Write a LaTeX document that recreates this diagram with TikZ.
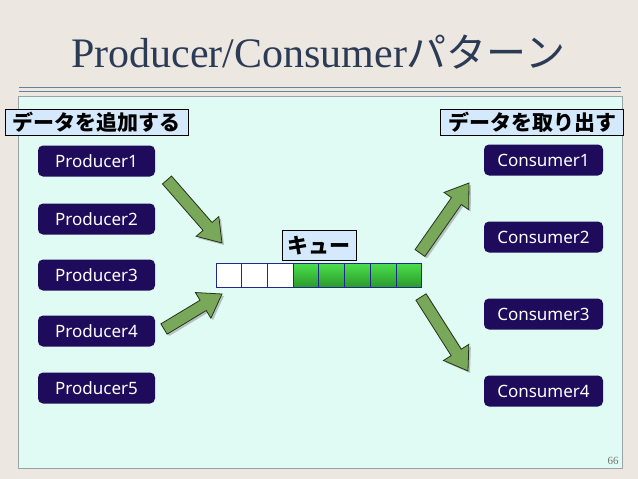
\documentclass[tikz,border=0pt]{standalone}
\usepackage{fontspec}
\setmainfont{Liberation Serif}
\setsansfont{Noto Sans}
\newfontfamily\jpfont{Noto Sans CJK JP}
\usetikzlibrary{calc,shadows}
\definecolor{paper}{HTML}{ECE8E1}
\definecolor{panel}{HTML}{E0FBF3}
\definecolor{panelline}{HTML}{9AA4A4}
\definecolor{rule}{HTML}{6A7F99}
\definecolor{tagfill}{HTML}{D4EAFC}
\definecolor{worker}{HTML}{1F0B5C}
\definecolor{arrowgreen}{HTML}{7AA85A}
\definecolor{arrowline}{HTML}{24331A}
\definecolor{cellline}{HTML}{1C2A8C}
\definecolor{celltop}{HTML}{4CE04C}
\definecolor{cellbottom}{HTML}{2A9A2A}
\definecolor{titleblue}{HTML}{2C3B55}

\tikzset{
  tag/.style={draw=black, fill=tagfill, line width=0.8pt, inner sep=2pt,
    minimum height=26pt, font=\jpfont\bfseries\fontsize{21}{21}\selectfont},
  worker/.style={fill=worker, rounded corners=5pt, text=white, inner sep=0pt,
    minimum width=117pt, minimum height=31pt, font=\sffamily\fontsize{17}{17}\selectfont},
  cell/.style={draw=cellline, line width=0.8pt, minimum width=25.7pt,
    minimum height=24pt, inner sep=0pt, outer sep=0pt},
  qempty/.style={fill=white},
  qfull/.style={top color=celltop, bottom color=cellbottom},
  arrowbody/.style={fill=arrowgreen, draw=arrowline, line width=0.8pt, line join=miter,
    drop shadow={shadow xshift=2pt, shadow yshift=-2pt, opacity=0.45}},
}

\newcommand{\flowarrow}[2]{%
  \path[arrowbody] let \p1=(#1), \p2=(#2),
    \n1={atan2(\y2-\y1,\x2-\x1)}, \n2={veclen(\x2-\x1,\y2-\y1)} in
    [shift={(\p1)}, rotate=\n1]
    (0pt,-6pt) -- ({\n2-22pt},-6pt) -- ({\n2-22pt},-15pt) -- (\n2,0pt)
    -- ({\n2-22pt},15pt) -- ({\n2-22pt},6pt) -- (0pt,6pt) -- cycle;}

\begin{document}
\begin{tikzpicture}[x=1pt, y=-1pt]
        \fill[paper] (0,0) rectangle (638,479);
        \useasboundingbox (0,0) rectangle (638,479);
        \node[anchor=base, text=titleblue, font=\fontsize{42}{42}\selectfont] (title) at (318,67)
            {Producer/Consumer{\jpfont\fontsize{40}{40}\selectfont パターン}};
        \draw[rule, line width=0.8pt] (19,87) -- (621,87);
        \draw[rule, line width=0.8pt] (19,91) -- (621,91);
        \filldraw[fill=panel, draw=panelline, line width=0.8pt] (18,96) rectangle (622,468);

        \node[tag, minimum width=183pt, anchor=north west] (addlbl) at (5,109) {データを追加する};
        \node[tag, minimum width=183pt, anchor=north east] (takelbl) at (624,109) {データを取り出す};

        \foreach \y [count=\i] in {161,219,275,331,388}
            \node[worker] (prod\i) at (96.5,\y) {Producer\i};
        \foreach \y [count=\i] in {160,237,314,391}
            \node[worker, minimum width=119pt] (cons\i) at (543.5,\y) {Consumer\i};

        \foreach \s [count=\i] in {qempty,qempty,qempty,qfull,qfull,qfull,qfull,qfull}
            \node[cell, \s] (q\i) at ({216+(\i-0.5)*25.7},275) {};
        \node[tag, minimum width=74pt, minimum height=30pt, anchor=south, inner sep=4pt,
            font=\jpfont\bfseries\fontsize{21}{21}\selectfont] (qlabel) at (319,261) {キュー};

        \coordinate (in1a) at (167,180);
        \coordinate (in1b) at (222,243);
        \coordinate (in2a) at (164,329);
        \coordinate (in2b) at (222,294);
        \coordinate (out1a) at (420,253);
        \coordinate (out1b) at (469,183);
        \coordinate (out2a) at (421,297);
        \coordinate (out2b) at (468,371);
        \flowarrow{in1a}{in1b}
        \flowarrow{in2a}{in2b}
        \flowarrow{out1a}{out1b}
        \flowarrow{out2a}{out2b}

        \node[text=black!55, font=\fontsize{11}{11}\selectfont] (pagenum) at (613,461) {66};
    \end{tikzpicture}
\end{document}
